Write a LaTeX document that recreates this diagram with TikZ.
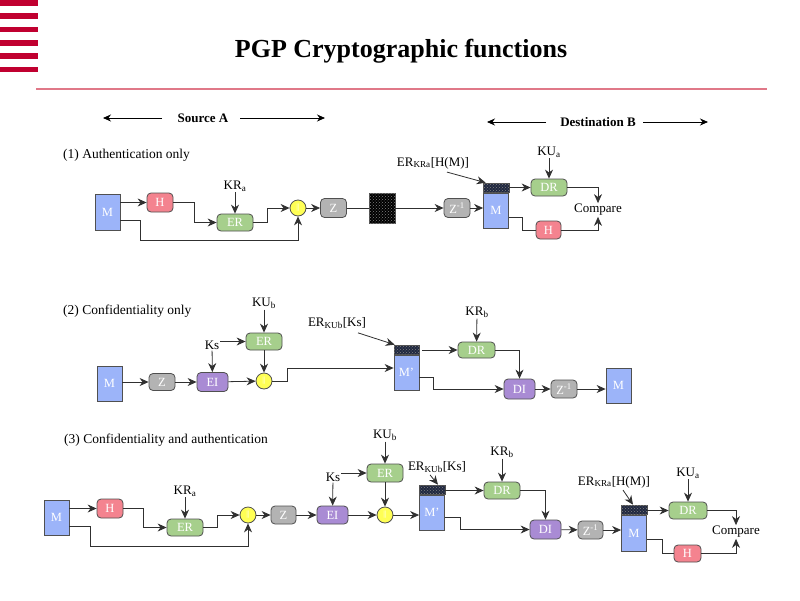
\documentclass[tikz,border=0pt]{standalone}
\usepackage{fontspec}
\setmainfont{Liberation Serif}
\usetikzlibrary{arrows.meta,patterns}
\definecolor{mblue}{HTML}{9CB4F9}
\definecolor{mpink}{HTML}{F4838F}
\definecolor{mgreen}{HTML}{A6CF8C}
\definecolor{mgray}{HTML}{B3B3B3}
\definecolor{mpurple}{HTML}{A98BD4}
\definecolor{myellow}{HTML}{FFFF55}
\definecolor{stripe}{HTML}{C00030}
\definecolor{rulec}{HTML}{E07888}
\definecolor{edge}{HTML}{505050}
\definecolor{hdrc}{HTML}{202840}
\definecolor{linec}{HTML}{303030}
\tikzset{
  base/.style={draw=edge, line width=0.8pt, inner sep=0pt, text=white, font=\fontsize{12.5}{12.5}\selectfont},
  mb/.style={base, fill=mblue, minimum width=25pt, minimum height=35pt},
  rb/.style={base, rounded corners=4pt},
  hb/.style={rb, fill=mpink, minimum width=26pt, minimum height=19pt},
  gb/.style={rb, fill=mgreen, minimum width=36pt, minimum height=17pt},
  zb/.style={rb, fill=mgray, minimum width=26pt, minimum height=19pt},
  pb/.style={rb, fill=mpurple, minimum width=31pt, minimum height=19pt},
  cat/.style={base, circle, fill=myellow, minimum size=16pt, font=\fontsize{8}{8}\selectfont},
  hdr/.style={draw=edge, line width=0.6pt, fill=hdrc, minimum width=26pt, minimum height=9pt, inner sep=0pt,
     postaction={pattern=crosshatch dots, pattern color=gray}},
  blk/.style={draw=edge, line width=0.6pt, fill=black, minimum width=26pt, minimum height=30pt, inner sep=0pt,
     postaction={pattern=crosshatch dots, pattern color=gray}},
  lab/.style={inner sep=1pt, font=\fontsize{13}{13}\selectfont},
  seclab/.style={inner sep=0pt, anchor=west, font=\fontsize{13.5}{13.5}\selectfont},
  hdlab/.style={inner sep=0pt, font=\fontsize{13}{13}\selectfont\bfseries},
  arr/.style={draw=linec, line width=0.8pt, -{Stealth[length=9pt,width=8pt]}},
  ln/.style={draw=linec, line width=0.8pt},
  harr/.style={draw=black, line width=0.8pt, -{Stealth[length=8pt,width=7pt]}},
}
\begin{document}
\begin{tikzpicture}[x=1pt,y=-1pt]
\useasboundingbox (0,0) rectangle (800,600);
\fill[white] (0,0) rectangle (800,600);
% stripes and rule
\foreach \yy in {0,13.3,26.6,40,53.3,66.6} {\fill[stripe] (0,\yy) rectangle (38,\yy+5.6);}
\draw[rulec, line width=1.2pt] (36,89) -- (767,89);
\node[font=\fontsize{26}{26}\selectfont\bfseries] (title) at (401,51) {PGP Cryptographic functions};
% source / destination
\node[hdlab] (srcA) at (203,118) {Source A};
\coordinate (sa0) at (103,118); \coordinate (sa1) at (162,118);
\coordinate (sa2) at (240,118); \coordinate (sa3) at (325,118);
\draw[harr] (sa1) -- (sa0); \draw[harr] (sa2) -- (sa3);
\node[hdlab] (dstB) at (598,122) {Destination B};
\coordinate (db0) at (487,122); \coordinate (db1) at (546,122);
\coordinate (db2) at (643,122); \coordinate (db3) at (708,122);
\draw[harr] (db1) -- (db0); \draw[harr] (db2) -- (db3);

% ---------- (1) ----------
\node[seclab] (s1) at (63,155) {(1) Authentication only};
\node[mb, minimum height=36pt] (m1) at (107.5,212) {M};
\node[hb] (h1) at (160,202.5) {H};
\node[gb] (er1) at (235,222.5) {ER};
\node[lab] (kra1) at (235,186) {KR\textsubscript{a}};
\node[cat] (c1) at (298,208) {||};
\node[zb] (z1) at (333.5,208) {Z};
\node[blk] (b1) at (382,208) {};
\node[zb] (zi1) at (457,208) {Z\textsuperscript{-1}};
\node[hdr] (hd1) at (496,187.5) {};
\node[mb] (m1b) at (496,210.5) {M};
\node[lab] (erl1) at (433,163) {ER\textsubscript{KRa}[H(M)]};
\node[gb] (dr1) at (549,187.5) {DR};
\node[lab] (kua1) at (549,152) {KU\textsubscript{a}};
\node[lab] (cmp1) at (598,210) {Compare};
\node[hb, minimum width=25pt, minimum height=18pt] (h1b) at (548.5,230) {H};

\draw[arr] (m1.east |- h1.west) -- (h1.west);
\draw[arr] (h1.east) -- ++(21,0) |- (er1.west);
\draw[arr] (kra1) -- (er1);
\draw[arr] (er1.east) -- ++(14,0) |- (c1.west);
\draw[arr] ([yshift=-8pt]m1.east) -- ++(20,0) -- ++(0,20) -| (c1.south);
\draw[arr] (c1) -- (z1);
\draw[ln] (z1) -- (b1);
\draw[arr] (b1) -- (zi1);
\draw[arr] (zi1.east) -- (m1b.west |- zi1.east);
\draw[arr] ([xshift=14pt,yshift=-2pt]erl1.south) -- ([xshift=3pt]hd1.north west);
\draw[arr] (hd1.east) -- (dr1.west);
\draw[arr] (kua1) -- (dr1);
\draw[arr] (dr1.east) -| (cmp1.north);
\draw[ln] ([yshift=-6.5pt]m1b.east) -- ++(13,0) |- (h1b.west);
\draw[arr] (h1b.east) -| (cmp1.south);

% ---------- (2) ----------
\node[seclab] (s2) at (63,311) {(2) Confidentiality only};
\node[mb] (m2) at (109.5,383.5) {M};
\node[zb, minimum height=17pt] (z2) at (162,382) {Z};
\node[pb] (ei2) at (212.5,382) {EI};
\node[lab] (ks2) at (212,345) {Ks};
\node[gb] (er2) at (264,341.5) {ER};
\node[lab] (kub2) at (264,303) {KU\textsubscript{b}};
\node[cat] (c2) at (264,381) {||};
\node[hdr, minimum width=25pt] (hd2) at (406.5,349.5) {};
\node[mb] (mp2) at (406.5,372.5) {M'};
\node[lab] (erl2) at (337,323) {ER\textsubscript{KUb}[Ks]};
\node[gb, minimum width=37pt, minimum height=16pt] (dr2) at (476.5,350) {DR};
\node[lab] (krb2) at (477,312) {KR\textsubscript{b}};
\node[pb, minimum height=20pt] (di2) at (519.5,389) {DI};
\node[zb, minimum height=18pt] (zi2) at (564,389) {Z\textsuperscript{-1}};
\node[mb] (m2b) at (618.5,385.5) {M};

\draw[arr] (m2.east |- z2.west) -- (z2.west);
\draw[arr] (z2) -- (ei2);
\draw[arr] (ei2) -- (c2);
\draw[arr] (ks2) -- (ei2);
\draw[arr] (ks2.east |- er2.west) -- (er2.west);
\draw[arr] (kub2) -- (er2);
\draw[arr] (er2) -- (c2);
\draw[arr] (c2.east) -- ++(15,0) |- ([yshift=4.5pt]mp2.west);
\draw[arr] ([xshift=21pt,yshift=-3pt]erl2.south) -- ([xshift=1pt]hd2.north west);
\draw[arr] ([xshift=3pt]hd2.east |- dr2.west) -- (dr2.west);
\draw[arr] (krb2) -- (dr2);
\draw[arr] (dr2.east) -| (di2.north);
\draw[arr] ([yshift=-4.5pt]mp2.east) -- ++(14,0) |- (di2.west);
\draw[arr] (di2) -- (zi2);
\draw[arr] (zi2.east) -- (m2b.west |- zi2.east);

% ---------- (3) ----------
\node[seclab] (s3) at (64,440) {(3) Confidentiality and authentication};
\node[mb] (m3) at (56.5,517.5) {M};
\node[hb] (h3) at (110,508.5) {H};
\node[gb] (er3) at (185,527.5) {ER};
\node[lab] (kra3) at (185,491) {KR\textsubscript{a}};
\node[cat] (c3) at (248,515) {||};
\node[zb, minimum width=25pt, minimum height=18pt] (z3) at (283.5,515) {Z};
\node[pb, minimum height=18pt] (ei3) at (332.5,515) {EI};
\node[lab] (ks3) at (333,477) {Ks};
\node[gb, minimum height=18pt] (er3b) at (385,473) {ER};
\node[lab] (kub3) at (385,435) {KU\textsubscript{b}};
\node[cat] (c3b) at (385,515) {||};
\node[hdr] (hd3) at (432,489.5) {};
\node[mb] (mp3) at (432,512.5) {M'};
\node[lab] (erl3) at (437,467) {ER\textsubscript{KUb}[Ks]};
\node[gb] (dr3) at (502,490.5) {DR};
\node[lab] (krb3) at (502,452) {KR\textsubscript{b}};
\node[pb] (di3) at (545.5,529.5) {DI};
\node[zb, minimum width=25pt, minimum height=18pt] (zi3) at (590.5,530) {Z\textsuperscript{-1}};
\node[hdr] (hd3b) at (634,509.5) {};
\node[mb, minimum height=36pt] (m3b) at (634,533) {M};
\node[lab] (erl3b) at (614,482) {ER\textsubscript{KRa}[H(M)]};
\node[gb, minimum width=38pt] (dr3b) at (688,510.5) {DR};
\node[lab] (kua3) at (688,473) {KU\textsubscript{a}};
\node[lab] (cmp3) at (736,532) {Compare};
\node[hb, minimum width=27pt, minimum height=17pt] (h3b) at (687.5,553.5) {H};

\draw[arr] (m3.east |- h3.west) -- (h3.west);
\draw[arr] (h3.east) -- ++(20,0) |- (er3.west);
\draw[arr] (kra3) -- (er3);
\draw[arr] (er3.east) -- ++(14,0) |- (c3.west);
\draw[arr] ([yshift=-8.5pt]m3.east) -- ++(21,0) -- ++(0,20) -| (c3.south);
\draw[arr] (c3) -- (z3);
\draw[arr] (z3) -- (ei3);
\draw[arr] (ks3) -- (ei3);
\draw[arr] (ks3.east |- er3b.west) -- (er3b.west);
\draw[arr] (kub3) -- (er3b);
\draw[arr] (er3b) -- (c3b);
\draw[arr] (ei3) -- (c3b);
\draw[arr] (c3b) -- (mp3.west |- c3b.east);
\draw[arr] ([xshift=-7pt,yshift=-1pt]erl3.south) -- ([xshift=6pt]hd3.north);
\draw[arr] (hd3.east |- dr3.west) -- (dr3.west);
\draw[arr] (krb3) -- (dr3);
\draw[arr] (dr3.east) -| (di3.north);
\draw[arr] ([yshift=-4.5pt]mp3.east) -- ++(15,0) |- (di3.west);
\draw[arr] (di3) -- (zi3);
\draw[arr] (zi3.east) -- (m3b.west |- zi3.east);
\draw[arr] ([xshift=9pt,yshift=-1pt]erl3b.south) -- ([xshift=-1pt]hd3b.north);
\draw[arr] (hd3b.east |- dr3b.west) -- (dr3b.west);
\draw[arr] (kua3) -- (dr3b);
\draw[arr] (dr3b.east) -| (cmp3.north);
\draw[ln] ([yshift=-6pt]m3b.east) -- ++(15,0) |- (h3b.west);
\draw[arr] (h3b.east) -| (cmp3.south);
\end{tikzpicture}
\end{document}
